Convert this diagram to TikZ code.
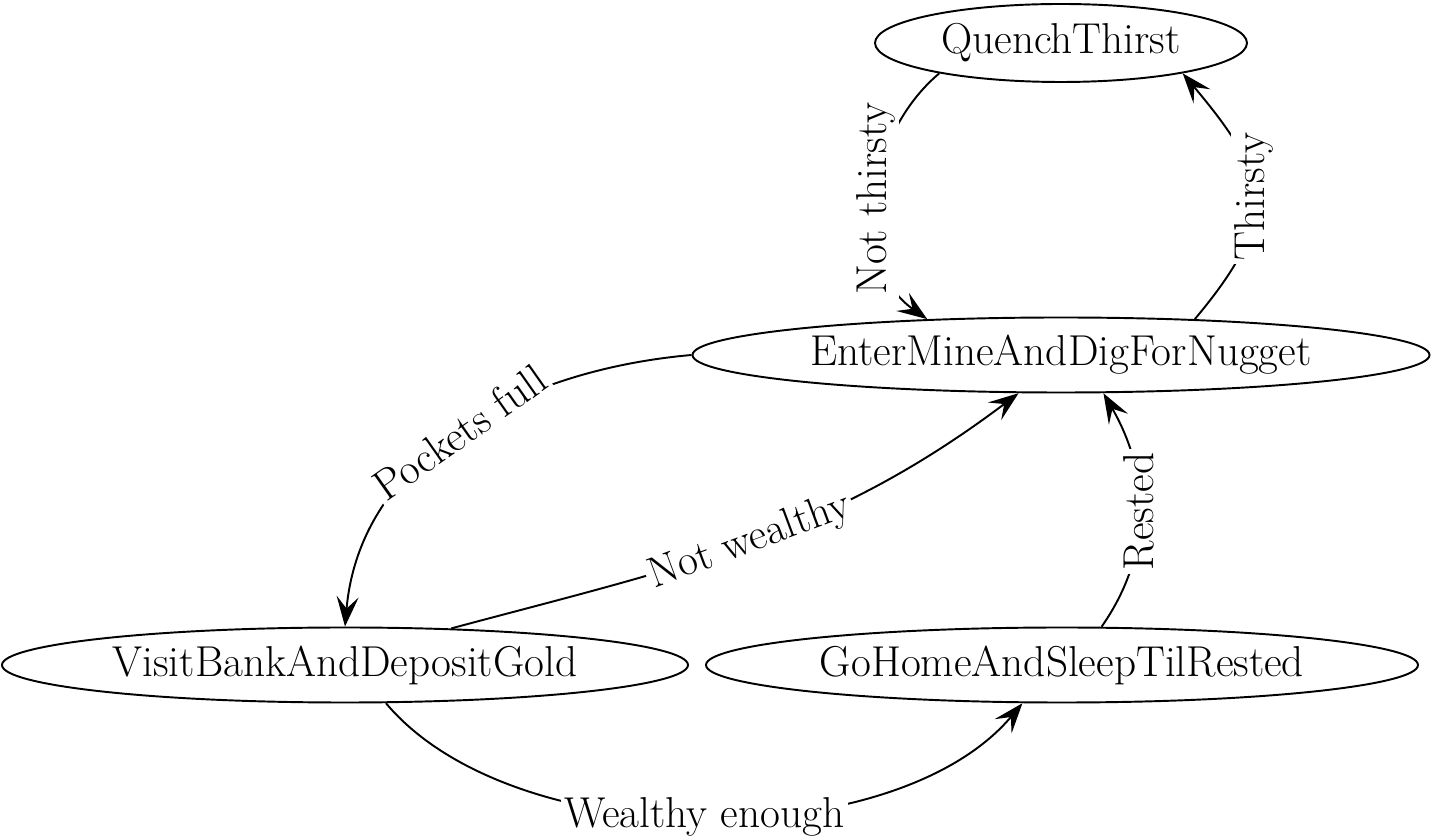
\documentclass[tikz,border=0pt]{standalone}
\usepackage{fontspec}
\usetikzlibrary{shapes.geometric,arrows.meta}
\tikzset{
  state/.style={ellipse, draw=black, line width=1.1pt, inner sep=0pt,
    minimum height=1.5cm, font=\fontsize{24.6}{28}\selectfont},
  trans/.style={-{Stealth[length=6mm,width=4.4mm,inset=2.4mm]}, line width=1.1pt},
  lbl/.style={fill=white, inner sep=2pt, font=\fontsize{24.6}{28}\selectfont}
}
\begin{document}
\begin{tikzpicture}
\useasboundingbox (0,0) rectangle (28.72,16.8);
% states
\node[state, minimum width=7.44cm, minimum height=1.56cm] (quench) at (21.22,15.94) {QuenchThirst};
\node[state, minimum width=14.74cm] (mine) at (21.22,9.7) {EnterMineAndDigForNugget};
\node[state, minimum width=13.72cm] (bank) at (6.9,3.5) {VisitBankAndDepositGold};
\node[state, minimum width=14.24cm] (home) at (21.24,3.5) {GoHomeAndSleepTilRested};
% transitions
\draw[trans] (mine.15) to[out=50,in=-50,looseness=1.4] node[lbl, rotate=90] {Thirsty} (quench.-14.5);
\draw[trans] (quench.194) to[out=-140,in=145] node[lbl, rotate=90] {Not thirsty} (mine.165.5);
\draw[trans] (mine.west) to[out=185,in=85] node[lbl, sloped] {Pockets full} (bank.north);
\draw[trans] (bank.19) to[out=15,in=217] node[lbl, sloped] {Not wealthy} (mine.-138);
\draw[trans] (bank.-43.5) to[out=-50,in=-130,looseness=0.8] node[lbl] {Wealthy enough} (home.-136);
\draw[trans] (home.44) to[out=55,in=-60] node[lbl, rotate=90] {Rested} (mine.-42);
\end{tikzpicture}
\end{document}
